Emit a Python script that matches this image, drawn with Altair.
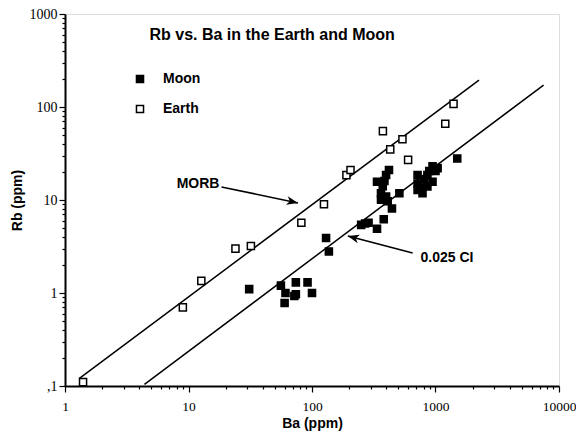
import altair as alt
import pandas as pd

# ---- data ----
earth_ba = [1.4, 9, 12.7, 24, 32, 82, 125, 190, 205, 375, 430, 540, 600, 1200, 1400]
earth_rb = [0.11, 0.7, 1.35, 3.0, 3.2, 5.7, 9.0, 18.5, 21, 55, 35, 45, 27, 66, 108]

moon_ba = [31, 56, 61, 60, 74, 74, 72, 92, 100,
           130, 137, 250, 269, 287, 336, 381, 444,
           420, 398, 336, 374, 362, 398, 410, 362, 510, 386,
           1500, 946, 1000, 890, 1040, 716, 808, 860, 716, 860, 716, 785, 946, 760]
moon_rb = [1.1, 1.2, 1.0, 0.78, 1.3, 0.97, 0.93, 1.3, 1.0,
           3.9, 2.8, 5.4, 5.6, 5.7, 4.9, 6.2, 8.1,
           21, 18.6, 15.7, 14.1, 11.8, 10.9, 9.7, 10.1, 11.8, 16,
           28, 23, 20.5, 20.5, 22, 18.6, 16.6, 18.6, 15, 14, 12.8, 11.8, 15.7, 13.5]

# reference lines (end points)
line_names = ["MORB", "MORB", "CI", "CI"]
line_ba = [1.3, 2250, 4.4, 7500]
line_rb = [0.12, 195, 0.104, 172]

# annotations
title_text = ["Rb vs. Ba in the Earth and Moon"]
title_pos = [(47.6, 594)]
label_text = ["MORB", "0.025 CI"]
label_ba = [17.8, 757]
label_rb = [14.9, 2.38]
label_align = ["right", "left"]
arrow_ba = [18.5, 653]
arrow_rb = [13.8, 2.69]
arrow_tip_ba = [77, 195]
arrow_tip_rb = [9.3, 4.1]
arrow_angle = [12, 195]

x_ticks = [k * d for d in [1, 10, 100, 1000] for k in range(1, 10)] + [10000]
y_ticks = [k * d for d in [0.1, 1, 10, 100] for k in range(1, 10)] + [1000]

assert len(moon_ba) == len(moon_rb) and len(earth_ba) == len(earth_rb)

pts = pd.DataFrame({
    "Ba": earth_ba + moon_ba,
    "Rb": earth_rb + moon_rb,
    "Type": ["Earth"] * len(earth_ba) + ["Moon"] * len(moon_ba),
})
lines = pd.DataFrame({"name": line_names, "Ba": line_ba, "Rb": line_rb})
labels = pd.DataFrame({"t": label_text, "Ba": label_ba, "Rb": label_rb, "al": label_align})
arrows = pd.DataFrame({"Ba": arrow_ba, "Rb": arrow_rb, "Ba2": arrow_tip_ba,
                       "Rb2": arrow_tip_rb, "ang": arrow_angle})
ttl = pd.DataFrame({"t": title_text, "Ba": [p[0] for p in title_pos], "Rb": [p[1] for p in title_pos]})

major = "abs(log(datum.value)/LN10 - round(log(datum.value)/LN10)) < 0.001"

xscale = alt.Scale(type="log", domain=[1, 10000], nice=False)
yscale = alt.Scale(type="log", domain=[0.1, 1000], nice=False)

xaxis = alt.Axis(
    values=x_ticks, title="Ba (ppm)", grid=False,
    labelExpr=f"{major} ? format(datum.value, 'd') : ''",
    labelOverlap=False, labelFlush=False,
    tickSize={"condition": {"test": major, "value": 6}, "value": 3},
    labelFont="Liberation Serif", labelFontSize=13.5, labelColor="black",
    labelPadding=7,
    titleFont="Liberation Sans", titleFontSize=14, titleFontWeight="bold",
    titleColor="black", titlePadding=4,
    domainColor="black", domainWidth=2, tickColor="black", tickWidth=1.2,
)
yaxis = alt.Axis(
    values=y_ticks, title="Rb (ppm)", grid=False,
    labelExpr=f"{major} ? (datum.value < 0.5 ? ',1' : format(datum.value, 'd')) : ''",
    labelOverlap=False, labelFlush=False,
    tickSize={"condition": {"test": major, "value": 6}, "value": 3},
    labelFont="Liberation Serif", labelFontSize=14, labelColor="black",
    labelPadding=2,
    titleFont="Liberation Sans", titleFontSize=14, titleFontWeight="bold",
    titleColor="black", titlePadding=5,
    domainColor="black", domainWidth=2, tickColor="black", tickWidth=1.2,
)

X = alt.X("Ba:Q", scale=xscale, axis=xaxis)
Y = alt.Y("Rb:Q", scale=yscale, axis=yaxis)

line_layer = alt.Chart(lines).mark_line(color="black", strokeWidth=1.5).encode(
    x=X, y=Y, detail="name:N")

point_layer = alt.Chart(pts).mark_point(
    shape="square", filled=True, stroke="black", strokeWidth=1.5, size=50, opacity=1
).encode(
    x="Ba:Q", y="Rb:Q",
    fill=alt.Fill("Type:N",
                  scale=alt.Scale(domain=["Moon", "Earth"], range=["black", "white"]),
                  legend=alt.Legend(
                      title=None, orient="none", legendX=68, legendY=58, padding=0,
                      symbolType="square", symbolSize=50, symbolStrokeColor="black",
                      symbolStrokeWidth=1.5, labelFont="Liberation Sans",
                      labelFontSize=14, labelFontWeight="bold", labelColor="black",
                      labelOffset=16, rowPadding=16)),
)

title_layer = alt.Chart(ttl).mark_text(
    font="Liberation Sans", fontSize=16, fontWeight="bold", color="black", align="center"
).encode(x="Ba:Q", y="Rb:Q", text="t:N")

left_lab = alt.Chart(labels[labels.al == "right"]).mark_text(
    font="Liberation Sans", fontSize=14, fontWeight="bold", color="black", align="right"
).encode(x="Ba:Q", y="Rb:Q", text="t:N")
right_lab = alt.Chart(labels[labels.al == "left"]).mark_text(
    font="Liberation Sans", fontSize=14, fontWeight="bold", color="black", align="left"
).encode(x="Ba:Q", y="Rb:Q", text="t:N")

arrow_shaft = alt.Chart(arrows).mark_rule(color="black", strokeWidth=1.6).encode(
    x="Ba:Q", y="Rb:Q", x2="Ba2:Q", y2="Rb2:Q")
arrow_head = alt.Chart(arrows).mark_point(
    shape="M0,0L-1,-0.38L-0.72,0L-1,0.38Z", filled=True, color="black",
    size=520, opacity=1
).encode(x="Ba2:Q", y="Rb2:Q", angle=alt.Angle("ang:Q", scale=None))

chart = alt.layer(
    line_layer, point_layer, title_layer, left_lab, right_lab, arrow_shaft, arrow_head
).properties(
    width=494, height=372,
    autosize=alt.AutoSizeParams(type="none"),
    padding={"left": 57, "top": 6, "right": 17, "bottom": 45},
).configure_view(stroke="black", strokeWidth=1.2).configure(background="white")

chart.save("out.html", embed_options={"renderer": "svg", "actions": False})
